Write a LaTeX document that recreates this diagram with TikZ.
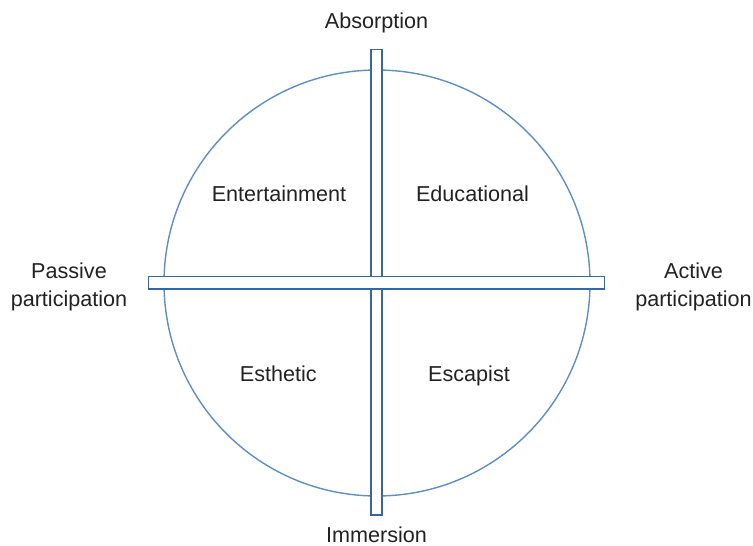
\documentclass[tikz,border=0pt]{standalone}
\usepackage{fontspec}
\setmainfont{Liberation Sans}
\usepackage{tikz}
\usetikzlibrary{positioning}
\definecolor{wheelblue}{HTML}{5D8EC4}
\definecolor{barblue}{HTML}{36689E}
\definecolor{labelgray}{HTML}{222222}

\tikzset{
  realm/.style={font=\fontsize{21.6}{28}\selectfont,text=labelgray,anchor=base,inner sep=0pt},
  axislabel/.style={realm,align=center},
  axisbar/.style={rectangle,draw=barblue,fill=white,line width=1.6pt,inner sep=0pt},
}

\begin{document}
\begin{tikzpicture}[x=1pt,y=-1pt]
  \useasboundingbox (0,0) rectangle (753,546);
  % experience wheel
  \node[circle,draw=wheelblue,line width=1.4pt,minimum size=426pt,inner sep=0pt] (wheel) at (377,283) {};
  \node[axisbar,minimum width=11pt,minimum height=465.5pt] (vbar) at (376.7,282.3) {};
  \node[axisbar,minimum width=456pt,minimum height=12.7pt] (hbar) at (376.3,282.7) {};
  % realms
  \node[realm] (entertain) at (279,201) {Entertainment};
  \node[realm] (educate) at (472.5,201) {Educational};
  \node[realm] (esthetic) at (278.3,381) {Esthetic};
  \node[realm] (escape) at (469,381) {Escapist};
  % axes
  \node[axislabel] (absorb) at (376.5,28.3) {Absorption};
  \node[axislabel] (immerse) at (376.5,542.5) {Immersion};
  \node[axislabel] (passive) at (69,306.3) {Passive\\participation};
  \node[axislabel] (active) at (693.5,306.3) {Active\\participation};
\end{tikzpicture}
\end{document}
